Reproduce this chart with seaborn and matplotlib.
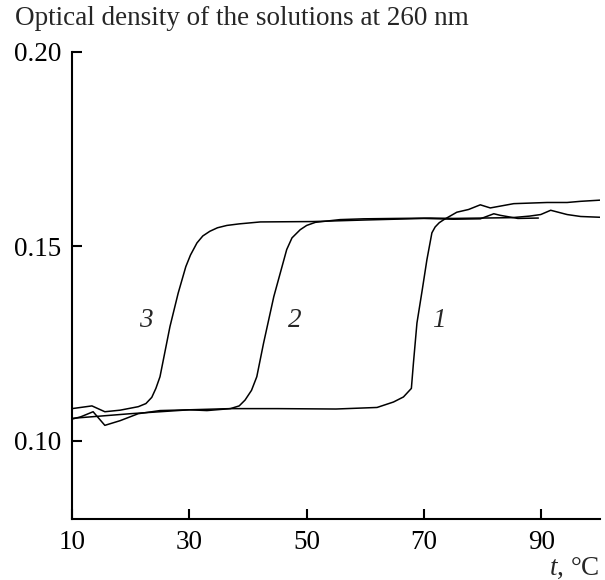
import numpy as np
import pandas as pd
import matplotlib
matplotlib.use("Agg")
import matplotlib.pyplot as plt
import seaborn as sns

# melting curves
x1 = [10, 20, 30, 37, 45, 55, 62, 64.8, 66.5, 67.85, 68.2, 68.8, 69.7, 70.5,
      71.35, 71.9, 72.6, 73.4, 75.6, 77.6, 79.6, 81.3, 85.3, 91.0, 94.4, 96.7,
      100]
y1 = [0.1058, 0.1070, 0.1080, 0.1083, 0.1083, 0.1082, 0.1086, 0.1100, 0.1113,
      0.1135, 0.1200, 0.1303, 0.1388, 0.1466, 0.1535, 0.1550, 0.1561, 0.1569,
      0.1588, 0.1595, 0.1607, 0.1599, 0.1610, 0.1613, 0.1613, 0.1616, 0.1619]

x2 = [10, 11.5, 13.6, 15.6, 18.2, 21.3, 25, 30, 33, 37, 38.5, 39.5, 40.6,
      41.5, 42.65, 44.4, 45.8, 46.6, 47.5, 48.9, 50.0, 51.5, 55.7, 59.7, 65.4,
      71.1, 75, 80, 85, 88, 89.9, 91.6, 94.4, 96.7, 100]
y2 = [0.1056, 0.1062, 0.1075, 0.1040, 0.1052, 0.1070, 0.1078, 0.1080, 0.1078,
      0.1083, 0.1090, 0.1105, 0.1130, 0.1165, 0.1251, 0.1371, 0.1448, 0.1492,
      0.1522, 0.1543, 0.1554, 0.1562, 0.1569, 0.1571, 0.1572, 0.1573, 0.1572,
      0.1573, 0.1574, 0.1578, 0.1582, 0.1593, 0.1582, 0.1577, 0.1575]

x3 = [10, 13.4, 15.6, 18.2, 21.3, 22.6, 23.6, 24.3, 25.0, 26.7, 28.1, 29.4,
      30.2, 31.3, 32.3, 33.5, 34.8, 36.4, 38.5, 42.1, 51.1, 60, 70, 75, 79.6,
      81.9, 83, 86, 89.5]
y3 = [0.1083, 0.1090, 0.1075, 0.1079, 0.1088, 0.1096, 0.1112, 0.1135, 0.1165,
      0.1294, 0.1380, 0.1448, 0.1478, 0.1509, 0.1527, 0.1539, 0.1548, 0.1554,
      0.1558, 0.1563, 0.1564, 0.1568, 0.1572, 0.1570, 0.1571, 0.1584, 0.1580,
      0.1572, 0.1573]

curve_names = ["1", "2", "3"]
label_x = [72.5, 47.9, 22.6]
label_y = [0.131, 0.131, 0.131]

x_ticks = [10, 30, 50, 70, 90]
y_ticks = [0.10, 0.15, 0.20]

df = pd.concat([
    pd.DataFrame({"t": x, "od": y, "curve": name})
    for x, y, name in zip([x1, x2, x3], [y1, y2, y3], curve_names)
])

sns.set_theme(style="ticks")
plt.rcParams["font.family"] = ["Liberation Serif", "DejaVu Serif"]
plt.rcParams["mathtext.fontset"] = "custom"
plt.rcParams["mathtext.rm"] = "Liberation Serif"
plt.rcParams["mathtext.it"] = "Liberation Serif:italic"

fig = plt.figure(figsize=(6.05, 5.8), dpi=100)
ax = fig.add_axes([0.119, 0.1057, 0.8727, 0.8047])

sns.lineplot(data=df, x="t", y="od", hue="curve", units="curve", estimator=None,
             palette=["black"] * 3, linewidth=1.1, legend=False, ax=ax)

for name, lx, ly in zip(curve_names, label_x, label_y):
    ax.text(lx, ly, name, style="italic", fontsize=19.5, ha="center", va="center")

ax.set_xlim(10, 100)
ax.set_ylim(0.08, 0.20)
ax.set_xticks(x_ticks)
ax.set_xticklabels([str(v) for v in x_ticks])
ax.set_yticks(y_ticks)
ax.set_yticklabels([f"{v:.2f}" for v in y_ticks])
ax.set_xlabel("")
ax.set_ylabel("")
sns.despine(ax=ax)
for s in ["left", "bottom"]:
    ax.spines[s].set_linewidth(1.5)
    ax.spines[s].set_color("black")
ax.tick_params(direction="in", length=7, width=1.5, labelsize=19.5, pad=8,
               colors="black")

ax.text(1.0, -0.121, "$t$, °C", transform=ax.transAxes, ha="right",
        va="baseline", fontsize=19.5)
fig.text(0.025, 1 - 25 / 580, "Optical density of the solutions at 260 nm",
         fontsize=19.5, ha="left", va="baseline")

fig.savefig("out.png", dpi=100)
